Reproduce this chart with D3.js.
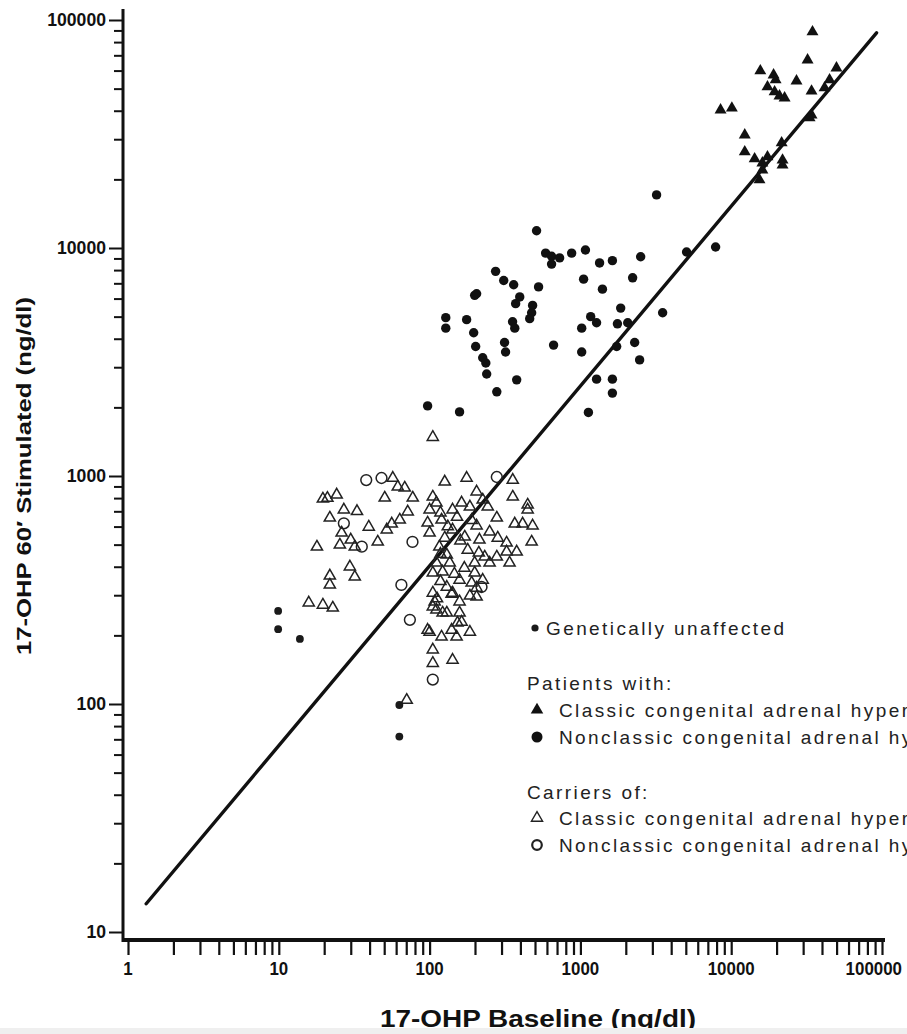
<!DOCTYPE html>
<html>
<head>
<meta charset="utf-8">
<script src="https://cdn.jsdelivr.net/npm/d3@7"></script>
<style>
  html, body { margin: 0; padding: 0; background: #fff; }
  #chart { width: 907px; height: 1034px; overflow: hidden; }
  .tick-label { font-family: "Liberation Sans", Arial, sans-serif; font-weight: bold; fill: #111; }
  .axis-title { font-family: "Liberation Sans", Arial, sans-serif; font-weight: bold; fill: #111; }
  .legend-text { font-family: "Liberation Sans", Arial, sans-serif; fill: #222; }
</style>
</head>
<body>
<div id="chart"></div>
<script>
// 17-OHP baseline vs 60' stimulated, log-log scatter

const xTickLabels = ['1', '10', '100', '1000', '10000', '100000'];
const yTickLabels = ['10', '100', '1000', '10000', '100000'];

// [baseline, stimulated] in ng/dl
const unaffected = [
    [9.9, 256], [9.9, 213], [13.8, 193], [63, 99], [63, 72]
];

const classicPatients = [
    [34600, 88700], [32100, 66800], [15600, 59800], [19100, 57400], [19700, 54600],
    [27100, 54000], [17400, 50900], [19400, 48400], [20900, 46400], [22600, 45500],
    [34100, 48800], [49900, 61600], [44900, 54600], [41600, 50400], [8500, 40300],
    [10100, 41100], [12300, 31300], [12300, 26400], [14300, 24600], [16100, 23600],
    [17400, 25100], [21900, 24300], [21900, 23100], [34100, 38300], [33100, 37200],
    [21600, 28900], [15400, 19900], [16100, 22000]
];

const nonclassicPatients = [
    [3200, 17100], [512, 11900], [588, 9500], [644, 9200], [728, 9050], [644, 8500],
    [875, 9500], [1080, 9800], [1340, 8600], [1630, 8800], [2510, 9150], [274, 7900],
    [310, 7200], [361, 6900], [528, 6750], [1050, 7300], [2220, 7400], [1400, 6600],
    [199, 6200], [205, 6300], [396, 6100], [372, 5700], [482, 5600], [475, 5200],
    [461, 4900], [1850, 5450], [3510, 5200], [128, 4950], [128, 4450], [176, 4850],
    [355, 4750], [367, 4450], [196, 4250], [1170, 5000], [1280, 4700], [1020, 4450],
    [1760, 4650], [2060, 4700], [202, 3700], [314, 3850], [319, 3500], [664, 3750],
    [1020, 3500], [1740, 3700], [2290, 3850], [2470, 3230], [225, 3300], [236, 3130],
    [239, 2800], [378, 2640], [279, 2340], [1280, 2660], [1630, 2660], [1630, 2310],
    [97, 2030], [158, 1910], [1130, 1900], [5060, 9600], [7880, 10100]
];

const classicCarriers = [
    [19.6, 794], [24.2, 827], [27.0, 711], [21.8, 655], [50.4, 802], [57.0, 980],
    [61.5, 896], [68.4, 887], [77.3, 802], [71.6, 697], [63.4, 642], [56.1, 617],
    [52.0, 581], [45.3, 514], [39.5, 598], [26.1, 563], [25.4, 499], [30.0, 525],
    [31.9, 489], [17.9, 489], [29.6, 400], [31.9, 361], [21.8, 365], [21.8, 333],
    [15.8, 278], [19.6, 272], [22.8, 264], [100, 711], [105, 810], [126, 943],
    [176, 980], [356, 960], [356, 810], [447, 747], [475, 514], [279, 655],
    [367, 617], [414, 617], [482, 605], [70.5, 104], [105, 173], [105, 151],
    [142, 156], [97, 211], [122, 251], [153, 227], [185, 207], [151, 197],
    [205, 295], [142, 307], [105, 307], [105, 267], [111, 763], [97, 623],
    [100, 563], [120, 642], [142, 711], [163, 763], [185, 733], [205, 853],
    [225, 786], [243, 733], [447, 711], [205, 605], [250, 569], [214, 525],
    [283, 535], [324, 509], [126, 535], [142, 581], [171, 541], [116, 489],
    [130, 451], [179, 474], [232, 442], [279, 442], [324, 465], [378, 465],
    [339, 416], [199, 416], [250, 416], [111, 416], [136, 416], [105, 376],
    [122, 380], [146, 372], [199, 376], [225, 350], [190, 340], [158, 350],
    [130, 326], [140, 304], [205, 323], [158, 281], [108, 281], [185, 298],
    [111, 259], [130, 251], [158, 251], [163, 229], [100, 207], [120, 197],
    [140, 211], [105, 1480], [21.0, 800], [33.0, 700], [118, 690], [152, 660],
    [190, 640], [132, 600], [160, 520], [118, 455], [212, 460], [170, 395],
    [118, 345], [112, 290]
];

const nonclassicCarriers = [
    [38, 960], [48, 980], [27, 620], [35.5, 490], [77, 514], [65, 333],
    [74, 234], [105, 128], [279, 990], [221, 326]
];

// regression line end points
const fitLine = [[1.32, 13.3], [92000, 87800]];

const legendItems = [
    { kind: 'unaffected', label: 'Genetically unaffected' },
    { kind: 'header', label: 'Patients with:' },
    { kind: 'classicPatient', label: 'Classic congenital adrenal hyperplasia' },
    { kind: 'nonclassicPatient', label: 'Nonclassic congenital adrenal hyperplasia' },
    { kind: 'header', label: 'Carriers of:' },
    { kind: 'classicCarrier', label: 'Classic congenital adrenal hyperplasia' },
    { kind: 'nonclassicCarrier', label: 'Nonclassic congenital adrenal hyperplasia' }
];
const legendRows = [628, 683, 710, 737, 792, 818, 845];

const W = 907, H = 1034;
const axisX = 123, axisY = 940;

const svg = d3.select('#chart').append('svg')
    .attr('width', W)
    .attr('height', H);

const x = d3.scaleLog().domain([1, 100000]).range([128, 882]);
const y = d3.scaleLog().domain([10, 100000]).range([932, 20]);

const ink = '#111';

// axes
const isMajor = v => Math.abs(Math.log10(v) - Math.round(Math.log10(v))) < 1e-9;

const xAxis = svg.append('g').attr('transform', `translate(0,${axisY + 2})`)
    .call(d3.axisBottom(x).tickValues(x.ticks()).tickSize(13).tickFormat(''));
xAxis.select('.domain').remove();
xAxis.selectAll('.tick line').attr('stroke', ink).attr('stroke-width', 2.2);

const yAxis = svg.append('g').attr('transform', `translate(${axisX},0)`)
    .call(d3.axisLeft(y).tickValues(y.ticks()).tickSize(9).tickFormat(''));
yAxis.select('.domain').remove();
yAxis.selectAll('.tick line')
    .attr('stroke', ink).attr('stroke-width', 2)
    .attr('x2', d => isMajor(d) ? -14 : -9);

svg.append('line')
    .attr('x1', axisX - 1).attr('x2', 885)
    .attr('y1', axisY).attr('y2', axisY)
    .attr('stroke', ink).attr('stroke-width', 4);
svg.append('line')
    .attr('x1', axisX).attr('x2', axisX)
    .attr('y1', 9).attr('y2', axisY + 2)
    .attr('stroke', ink).attr('stroke-width', 3);

// tick labels
const xLabelW = d => d.length * 9.4;
svg.append('g').selectAll('text')
    .data(xTickLabels)
    .join('text')
    .attr('class', 'tick-label')
    .attr('x', d => Math.min(x(+d), W - 5 - xLabelW(d) / 2))
    .attr('y', 975)
    .attr('text-anchor', 'middle')
    .attr('font-size', 18)
    .attr('textLength', xLabelW)
    .attr('lengthAdjust', 'spacingAndGlyphs')
    .text(d => d);

svg.append('g').selectAll('text')
    .data(yTickLabels)
    .join('text')
    .attr('class', 'tick-label')
    .attr('x', 106)
    .attr('y', d => y(+d) + 6)
    .attr('text-anchor', 'end')
    .attr('font-size', 18)
    .attr('textLength', d => d.length * 9.8)
    .attr('lengthAdjust', 'spacingAndGlyphs')
    .text(d => d);

// axis titles
svg.append('text')
    .attr('class', 'axis-title')
    .attr('x', 538).attr('y', 1027)
    .attr('text-anchor', 'middle')
    .attr('font-size', 24)
    .attr('textLength', 316)
    .attr('lengthAdjust', 'spacingAndGlyphs')
    .text('17-OHP Baseline (ng/dl)');

svg.append('text')
    .attr('class', 'axis-title')
    .attr('transform', 'translate(31,476) rotate(-90)')
    .attr('text-anchor', 'middle')
    .attr('font-size', 21)
    .attr('textLength', 358)
    .attr('lengthAdjust', 'spacingAndGlyphs')
    .text('17-OHP 60\u2032 Stimulated (ng/dl)');

// regression line
svg.append('line')
    .attr('x1', x(fitLine[0][0])).attr('y1', y(fitLine[0][1]))
    .attr('x2', x(fitLine[1][0])).attr('y2', y(fitLine[1][1]))
    .attr('stroke', ink).attr('stroke-width', 3.4)
    .attr('stroke-linecap', 'round');

// markers
const triangle = size => d3.symbol().type(d3.symbolTriangle).size(size)();

const pts = svg.append('g');

pts.append('g').selectAll('circle')
    .data(nonclassicCarriers)
    .join('circle')
    .attr('cx', d => x(d[0])).attr('cy', d => y(d[1]))
    .attr('r', 5.4)
    .attr('fill', 'none').attr('stroke', '#222').attr('stroke-width', 1.5);

pts.append('g').selectAll('path')
    .data(classicCarriers)
    .join('path')
    .attr('d', triangle(54))
    .attr('transform', d => `translate(${x(d[0])},${y(d[1])})`)
    .attr('fill', 'none').attr('stroke', '#222').attr('stroke-width', 1.5);

pts.append('g').selectAll('circle')
    .data(nonclassicPatients)
    .join('circle')
    .attr('cx', d => x(d[0])).attr('cy', d => y(d[1]))
    .attr('r', 4.7)
    .attr('fill', ink);

pts.append('g').selectAll('path')
    .data(classicPatients)
    .join('path')
    .attr('d', triangle(62))
    .attr('transform', d => `translate(${x(d[0])},${y(d[1])})`)
    .attr('fill', ink);

pts.append('g').selectAll('circle')
    .data(unaffected)
    .join('circle')
    .attr('cx', d => x(d[0])).attr('cy', d => y(d[1]))
    .attr('r', 3.9)
    .attr('fill', '#1a1a1a');

// legend
const legend = svg.append('g');
const legendFont = 19, legendSpacing = 2.4;
legendItems.forEach((item, i) => {
    const cy = legendRows[i];
    const mx = 537;
    if (item.kind === 'header') {
        legend.append('text')
            .attr('class', 'legend-text')
            .attr('x', 527).attr('y', cy + 7)
            .attr('font-size', legendFont)
            .attr('letter-spacing', legendSpacing)
            .text(item.label);
        return;
    }
    if (item.kind === 'unaffected') {
        legend.append('circle').attr('cx', mx - 2).attr('cy', cy).attr('r', 3.6).attr('fill', '#1a1a1a');
    } else if (item.kind === 'classicPatient') {
        legend.append('path').attr('d', triangle(68))
            .attr('transform', `translate(${mx},${cy})`).attr('fill', ink);
    } else if (item.kind === 'nonclassicPatient') {
        legend.append('circle').attr('cx', mx).attr('cy', cy).attr('r', 5.5).attr('fill', ink);
    } else if (item.kind === 'classicCarrier') {
        legend.append('path').attr('d', triangle(54))
            .attr('transform', `translate(${mx},${cy})`)
            .attr('fill', 'none').attr('stroke', '#222').attr('stroke-width', 1.4);
    } else if (item.kind === 'nonclassicCarrier') {
        legend.append('circle').attr('cx', mx).attr('cy', cy).attr('r', 4.8)
            .attr('fill', 'none').attr('stroke', '#222').attr('stroke-width', 2.2);
    }
    legend.append('text')
        .attr('class', 'legend-text')
        .attr('x', item.kind === 'unaffected' ? 546 : 559)
        .attr('y', cy + 7)
        .attr('font-size', legendFont)
        .attr('letter-spacing', legendSpacing)
        .text(item.label);
});

// light strip at the bottom edge of the scan
svg.append('rect')
    .attr('x', 0).attr('y', 1028).attr('width', W).attr('height', H - 1028)
    .attr('fill', '#efefef');
</script>
</body>
</html>
